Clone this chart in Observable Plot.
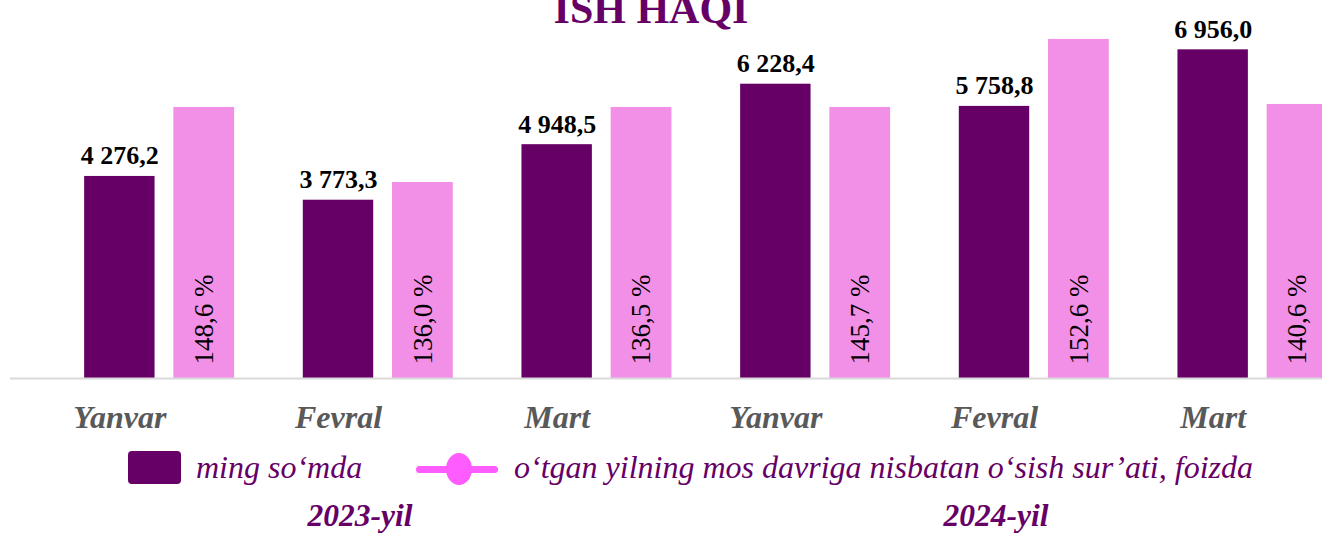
<!DOCTYPE html>
<html><head><meta charset="utf-8">
<script src="https://cdn.jsdelivr.net/npm/d3@7"></script>
<script src="https://cdn.jsdelivr.net/npm/@observablehq/plot@0.6"></script>
<style>
body{margin:0;background:#fff;}
#wrap{position:relative;width:1322px;height:535px;overflow:hidden;font-family:'Liberation Serif','Times New Roman',serif;}
#chart{position:absolute;left:0;top:0;}
#chart text{font-family:'Liberation Serif','Times New Roman',serif;}
.t{position:absolute;white-space:nowrap;line-height:1;color:#660066;font-family:'Liberation Serif','Times New Roman',serif;}
#title{font-size:42px;font-weight:bold;left:651px;top:-12px;transform:translateX(-50%);}
.leg{font-size:32px;font-style:italic;top:451px;}
.yr{font-size:31.5px;font-style:italic;font-weight:bold;top:500px;transform:translateX(-50%);}
#sw1{position:absolute;left:128px;top:451px;width:53px;height:33px;background:#660066;border-radius:4px;}
#ln2{position:absolute;left:416px;top:466px;width:82px;height:7px;background:#ff5cff;border-radius:4px;}
#mk2{position:absolute;left:446px;top:453px;width:26px;height:32px;background:#ff5cff;border-radius:50%;}
</style></head><body>
<div id="wrap">
  <div id="chart"></div>
  <div class="t" id="title"></div>
  <div id="sw1"></div><div class="t leg" id="lt1" style="left:196px"></div>
  <div id="ln2"></div><div id="mk2"></div><div class="t leg" id="lt2" style="left:514px"></div>
  <div class="t yr" id="y1" style="left:360px"></div>
  <div class="t yr" id="y2" style="left:996px"></div>
</div>
<script>
const titleText = "ISH HAQI";
const months = ["Yanvar","Fevral","Mart","Yanvar","Fevral","Mart"];
const years = ["2023-yil","2024-yil"];
const seriesNames = ["ming so‘mda","o‘tgan yilning mos davriga nisbatan o‘sish sur’ati, foizda"];
const wages = [4276.2, 3773.3, 4948.5, 6228.4, 5758.8, 6956.0];
const growth = [148.6, 136.0, 136.5, 145.7, 152.6, 140.6];
// heights of the pink bars as drawn, read on a secondary axis 0–200
const growthBarHeights = [143.4, 103.7, 143.4, 143.4, 179.4, 145.0];

document.getElementById("title").textContent = titleText;
document.getElementById("lt1").textContent = seriesNames[0];
document.getElementById("lt2").textContent = seriesNames[1];
document.getElementById("y1").textContent = years[0];
document.getElementById("y2").textContent = years[1];

const loc = d3.formatLocale({decimal: ",", thousands: " ", grouping: [3], currency: ["", ""]});
const fmtW = loc.format(",.1f");
const fmtG = loc.format(".1f");

const Y_MAX = 8000, Y2_MAX = 200;
const DARK_HW = 0.161, PINK_OFF = 0.386, PINK_HW = 0.139;
const idx = d3.range(months.length);
const wageRows = idx.map(i => ({i, v: wages[i]}));
const growthRows = idx.map(i => ({i, v: growthBarHeights[i] * Y_MAX / Y2_MAX, label: fmtG(growth[i]) + " %"}));
const FONT = "'Liberation Serif', 'Times New Roman', serif";

const chart = Plot.plot({
  width: 1322, height: 440,
  marginLeft: 10, marginRight: 0, marginTop: 0, marginBottom: 62,
  style: {fontFamily: FONT, background: "transparent", overflow: "visible"},
  x: {domain: [-0.5, 5.5], axis: null},
  y: {domain: [0, Y_MAX], axis: null},
  marks: [
    Plot.rect(wageRows, {x1: d => d.i - DARK_HW, x2: d => d.i + DARK_HW, y1: 0, y2: "v", fill: "#660066"}),
    Plot.rect(growthRows, {x1: d => d.i + PINK_OFF - PINK_HW, x2: d => d.i + PINK_OFF + PINK_HW, y1: 0, y2: "v", fill: "#f28fe6"}),
    Plot.ruleY([0], {stroke: "#d9d9d9", strokeWidth: 2}),
    Plot.text(wageRows, {x: "i", y: "v", text: d => fmtW(d.v), dy: -12, lineAnchor: "bottom",
      fontSize: 26, fontWeight: "bold", fill: "#000", fontFamily: FONT}),
    Plot.text(growthRows, {x: d => d.i + PINK_OFF, y: 0, text: "label", rotate: -90, textAnchor: "start",
      dy: -14, fontSize: 27, fill: "#000", fontFamily: FONT}),
    Plot.axisX({ticks: idx, tickFormat: i => months[i], tickSize: 0, tickPadding: 27, fontSize: 32, label: null,
      fontWeight: "bold", fontStyle: "italic", fill: "#595959", color: "#595959", fontFamily: FONT})
  ]
});
document.getElementById("chart").appendChild(chart);
</script>
</body></html>
